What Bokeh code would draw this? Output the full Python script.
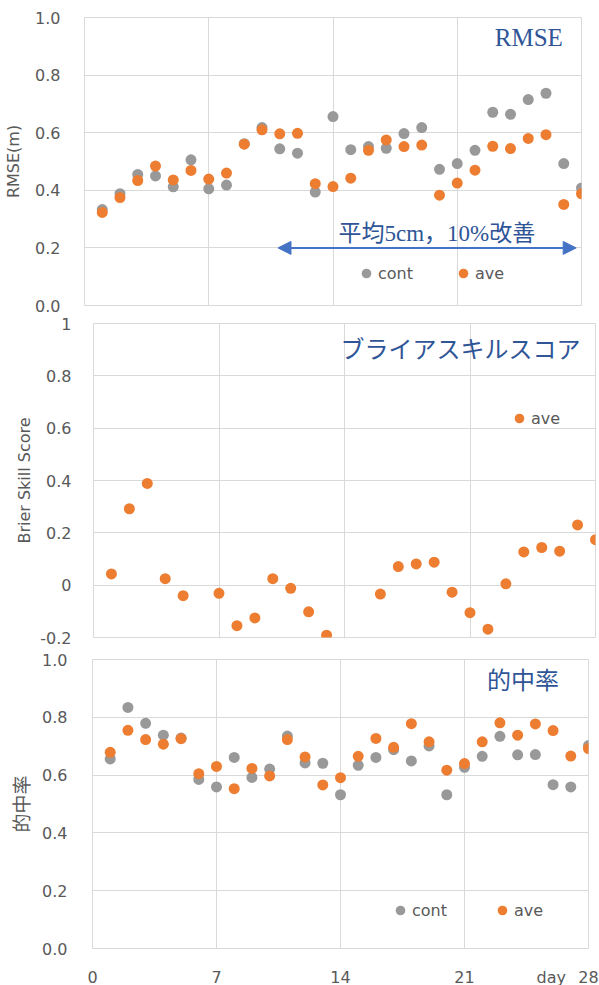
from bokeh.plotting import figure
from bokeh.models import (Range1d, FixedTicker, Legend, LegendItem, Label, Arrow,
                          NormalHead)
from bokeh.embed import file_html
from bokeh.resources import INLINE

# ---------------- data ----------------
days = list(range(1, 29))
rmse_cont = [0.333, 0.388, 0.455, 0.450, 0.412, 0.506, 0.405, 0.418, 0.562, 0.618,
             0.544, 0.529, 0.394, 0.656, 0.541, 0.552, 0.546, 0.597, 0.618, 0.473,
             0.493, 0.539, 0.671, 0.664, 0.715, 0.737, 0.493, 0.408]
rmse_ave = [0.323, 0.375, 0.434, 0.484, 0.436, 0.469, 0.439, 0.460, 0.560, 0.610,
            0.596, 0.598, 0.423, 0.413, 0.442, 0.539, 0.575, 0.552, 0.557, 0.383,
            0.425, 0.470, 0.553, 0.545, 0.580, 0.593, 0.351, 0.388]

bss_days = [1, 2, 3, 4, 5, 7, 8, 9, 10, 11, 12, 13, 16, 17, 18, 19, 20, 21, 22,
            23, 24, 25, 26, 27, 28]
bss_ave = [0.043, 0.292, 0.389, 0.025, -0.040, -0.031, -0.155, -0.125, 0.025, -0.012,
           -0.102, -0.191, -0.034, 0.071, 0.081, 0.088, -0.027, -0.105, -0.168,
           0.005, 0.127, 0.144, 0.130, 0.230, 0.174]

hit_cont = [0.656, 0.834, 0.779, 0.738, 0.728, 0.585, 0.559, 0.661, 0.592, 0.621,
            0.735, 0.642, 0.641, 0.532, 0.634, 0.661, 0.688, 0.649, 0.701, 0.532,
            0.627, 0.665, 0.734, 0.670, 0.671, 0.567, 0.559, 0.702]
hit_ave = [0.679, 0.755, 0.723, 0.707, 0.726, 0.605, 0.630, 0.553, 0.623, 0.597,
           0.723, 0.663, 0.566, 0.591, 0.665, 0.727, 0.696, 0.778, 0.715, 0.617,
           0.640, 0.715, 0.781, 0.738, 0.777, 0.754, 0.666, 0.692]

day_label_pos = 25.9
x_ticks = [0, 7, 14, 21, day_label_pos, 28]
x_labels = {day_label_pos: "day"}
y_ticks_01 = [0.0, 0.2, 0.4, 0.6, 0.8, 1.0]
y_ticks_bss = [-0.2, 0.0, 0.2, 0.4, 0.6, 0.8, 1.0]
y_labels_bss = {-0.2: "-0.2", 0: "0", 0.2: "0.2", 0.4: "0.4", 0.6: "0.6", 0.8: "0.8", 1: "1"}

title_rmse = "RMSE"
title_bss = "ブライアスキルスコア"
title_hit = "的中率"
note_text = "平均5cm，10%改善"
note_pos = (19.85, 0.25)
arrow_x = (10.9, 27.7)
arrow_y = 0.2

# ---------------- style ----------------
GRAY = "#999999"
ORANGE = "#ED7D31"
GRID = "#D9D9D9"
TXT = "#595959"
TITLE_C = "#2F5597"
FONT = "DejaVu Sans"
SERIF_JP = "'Liberation Serif', 'Noto Sans CJK JP'"


def make_fig(fw, fh, yr, border_left, border_right, border_top, border_bottom, show_x):
    p = figure(frame_width=fw, frame_height=fh, x_range=Range1d(0, 28), y_range=Range1d(*yr),
               output_backend="svg", toolbar_location=None,
               min_border_left=border_left, min_border_right=border_right,
               min_border_top=border_top, min_border_bottom=border_bottom)
    p.outline_line_color = GRID
    p.outline_line_width = 1
    p.background_fill_color = "white"
    p.border_fill_color = "white"
    p.xgrid.ticker = FixedTicker(ticks=[7, 14, 21])
    p.xgrid.grid_line_color = GRID
    p.ygrid.grid_line_color = GRID
    for ax in p.yaxis:
        ax.axis_line_color = None
        ax.major_tick_line_color = None
        ax.minor_tick_line_color = None
        ax.major_tick_out = 0
        ax.major_label_text_font = FONT
        ax.major_label_text_font_size = "16px"
        ax.major_label_text_color = TXT
        ax.axis_label_text_font = FONT
        ax.axis_label_text_font_size = "16px"
        ax.axis_label_text_font_style = "normal"
        ax.axis_label_text_color = TXT
    xa = p.xaxis[0]
    xa.ticker = FixedTicker(ticks=x_ticks)
    xa.major_label_overrides = x_labels
    xa.axis_line_color = None
    xa.major_tick_line_color = None
    xa.minor_tick_line_color = None
    xa.major_tick_out = 0
    xa.major_label_text_font = FONT
    xa.major_label_text_font_size = "16px"
    xa.major_label_text_color = TXT
    xa.visible = show_x
    return p


def style_legend(lg):
    lg.orientation = "horizontal"
    lg.background_fill_alpha = 0
    lg.border_line_alpha = 0
    lg.label_text_font = FONT
    lg.label_text_font_size = "16px"
    lg.label_text_color = TXT
    lg.margin = 0
    lg.padding = 0
    lg.glyph_width = 24
    lg.glyph_height = 24
    lg.label_height = 24
    lg.label_standoff = 0


# ---------- top: RMSE ----------
p1 = make_fig(497, 288, (0, 1), 84, 18, 17, 9, False)
p1.yaxis.ticker = FixedTicker(ticks=y_ticks_01)
p1.yaxis.major_label_overrides = {t: f"{t:.1f}" for t in y_ticks_01}
p1.yaxis.major_label_standoff = 24
p1.yaxis.axis_label = "RMSE(m)"
p1.yaxis.axis_label_standoff = 9
r1c = p1.scatter(days, rmse_cont, size=11, color=GRAY, line_color=None)
r1a = p1.scatter(days, rmse_ave, size=11, color=ORANGE, line_color=None)
p1.add_layout(Arrow(start=NormalHead(size=13, fill_color="#4472C4", line_color="#4472C4"),
                    end=NormalHead(size=13, fill_color="#4472C4", line_color="#4472C4"),
                    x_start=arrow_x[0], x_end=arrow_x[1], y_start=arrow_y, y_end=arrow_y,
                    line_color="#4472C4", line_width=2))
p1.add_layout(Label(x=note_pos[0], y=note_pos[1], text=note_text, text_align="center",
                    text_baseline="middle", text_font=SERIF_JP, text_font_size="23px",
                    text_color=TITLE_C))
p1.add_layout(Label(x=26.95, y=0.93, text=title_rmse, text_align="right",
                    text_baseline="middle", text_font="Liberation Serif",
                    text_font_size="25px", text_color=TITLE_C))
lg1 = Legend(items=[LegendItem(label="cont", renderers=[r1c]),
                    LegendItem(label="ave", renderers=[r1a])],
             location=(270, 20), spacing=38)
style_legend(lg1)
p1.add_layout(lg1)

# ---------- middle: Brier skill score ----------
p2 = make_fig(502, 314, (-0.2, 1), 93, 4, 9, 10, False)
p2.yaxis.ticker = FixedTicker(ticks=y_ticks_bss)
p2.yaxis.major_label_overrides = y_labels_bss
p2.yaxis.major_label_standoff = 22
p2.yaxis.axis_label = "Brier Skill Score"
p2.yaxis.axis_label_standoff = 3
r2a = p2.scatter(bss_days, bss_ave, size=11, color=ORANGE, line_color=None)
p2.add_layout(Label(x=27.17, y=0.91, text=title_bss, text_align="right",
                    text_baseline="middle", text_font="Noto Sans CJK JP",
                    text_font_size="24px", text_color=TITLE_C))
lg2 = Legend(items=[LegendItem(label="ave", renderers=[r2a])],
             location=(414, 207), spacing=0)
style_legend(lg2)
p2.add_layout(lg2)

# ---------- bottom: hit rate ----------
p3 = make_fig(496, 289, (0, 1), 92, 11, 12, 37, True)
p3.yaxis.ticker = FixedTicker(ticks=y_ticks_01)
p3.yaxis.major_label_overrides = {t: f"{t:.1f}" for t in y_ticks_01}
p3.yaxis.major_label_standoff = 25
p3.yaxis.axis_label = "的中率"
p3.yaxis.axis_label_text_font = "Noto Sans CJK JP"
p3.yaxis.axis_label_text_font_size = "19px"
p3.yaxis.axis_label_standoff = 5
p3.xaxis.major_label_standoff = 19
r3c = p3.scatter(days, hit_cont, size=11, color=GRAY, line_color=None)
r3a = p3.scatter(days, hit_ave, size=11, color=ORANGE, line_color=None)
p3.add_layout(Label(x=26.33, y=0.935, text=title_hit, text_align="right",
                    text_baseline="middle", text_font="Noto Sans CJK JP",
                    text_font_size="24px", text_color=TITLE_C))
lg3 = Legend(items=[LegendItem(label="cont", renderers=[r3c]),
                    LegendItem(label="ave", renderers=[r3a])],
             location=(296, 26), spacing=43)
style_legend(lg3)
p3.add_layout(lg3)

# three separate roots, stacked: keeps each panel's own frame position
open("out.html", "w").write(file_html([p1, p2, p3], INLINE))
